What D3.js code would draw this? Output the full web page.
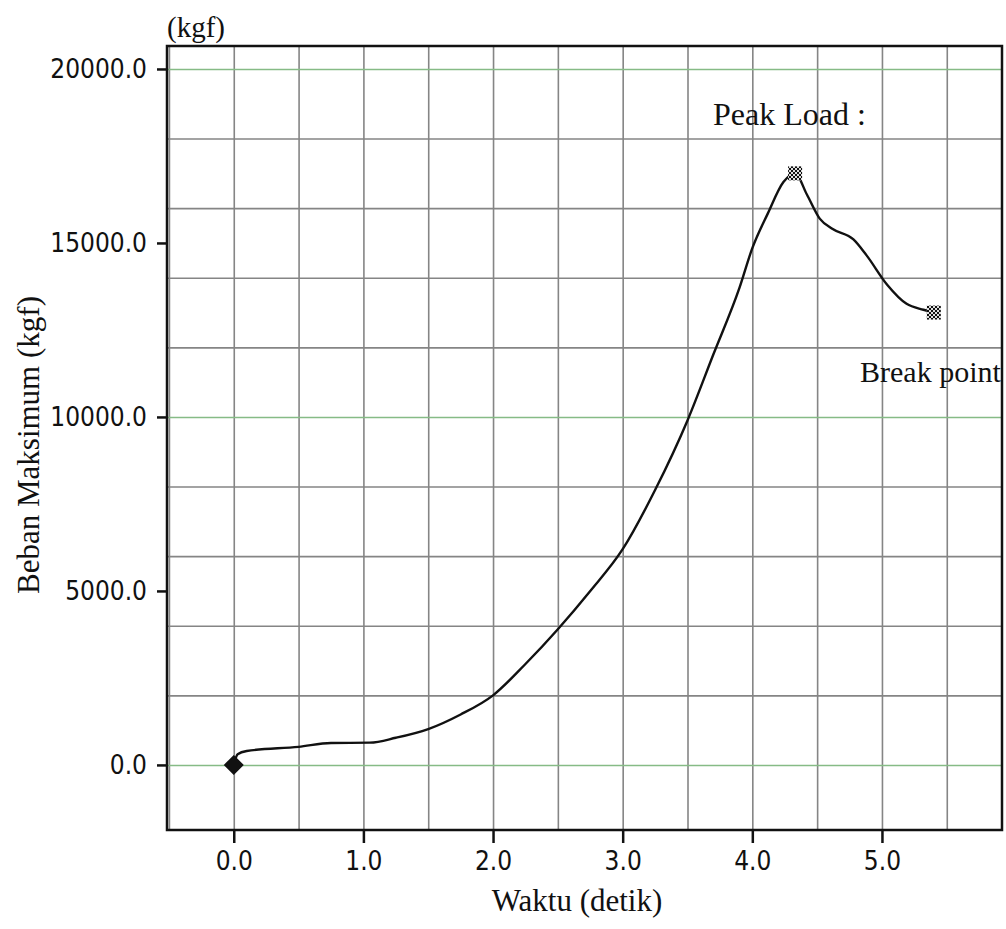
<!DOCTYPE html>
<html>
<head>
<meta charset="utf-8">
<script src="https://cdn.jsdelivr.net/npm/d3@7"></script>
<style>
  body { margin: 0; background: #fff; }
  .tick text { font-family: "DejaVu Sans Condensed", "DejaVu Sans", sans-serif; font-size: 26px; fill: #111; }
  .serif { font-family: "Liberation Serif", "Times New Roman", serif; fill: #111; }
</style>
</head>
<body>
<svg id="chart" width="1006" height="929"></svg>
<script>
// curve: time (s) and load (kgf)
const timeSec = [0, 0.03, 0.1, 0.5, 0.75, 1.05, 1.25, 1.5, 1.75, 2.0, 2.25, 2.5, 2.75, 3.0, 3.25,
  3.5, 3.7, 3.9, 4.0, 4.12, 4.24, 4.33, 4.42, 4.52, 4.62, 4.78, 4.88, 5.04, 5.19, 5.32, 5.4];
const loadKgf = [0, 310, 400, 520, 630, 640, 780, 1030, 1450, 2000, 2900, 3900, 5000, 6200, 7900,
  9900, 11800, 13700, 14850, 15850, 16750, 17000, 16400, 15700, 15400, 15100, 14650, 13800, 13250, 13080, 13000];

const xTicks = [0, 1, 2, 3, 4, 5];
const yTicks = [0, 5000, 10000, 15000, 20000];
const gridX = [-0.5, 0, 0.5, 1, 1.5, 2, 2.5, 3, 3.5, 4, 4.5, 5, 5.5];
const gridY = [0, 2000, 4000, 6000, 8000, 10000, 12000, 14000, 16000, 18000, 20000];
const greenY = [0, 10000, 20000];

const peakPoint = [4.33, 17000];
const breakPoint = [5.4, 13000];
const startPoint = [0, 0];

const margin = { top: 46, right: 4, bottom: 99, left: 167 };
const W = 1006, H = 929;
const width = W - margin.left - margin.right;
const height = H - margin.top - margin.bottom;

const svg = d3.select('#chart');

// checkered marker fill
const defs = svg.append('defs');
const pat = defs.append('pattern')
  .attr('id', 'checker')
  .attr('width', 4).attr('height', 4)
  .attr('patternUnits', 'userSpaceOnUse');
pat.append('rect').attr('width', 4).attr('height', 4).attr('fill', '#ddd');
pat.append('rect').attr('width', 2).attr('height', 2).attr('fill', '#111');
pat.append('rect').attr('x', 2).attr('y', 2).attr('width', 2).attr('height', 2).attr('fill', '#111');

const g = svg.append('g')
  .attr('transform', `translate(${margin.left},${margin.top})`);

const x = d3.scaleLinear().domain([-0.515, 5.926]).range([0, width]);
const y = d3.scaleLinear().domain([-1870, 20660]).range([height, 0]);

// vertical grid
g.append('g')
  .attr('transform', `translate(0,${height})`)
  .call(d3.axisBottom(x).tickValues(gridX).tickSize(-height).tickFormat(''))
  .call((s) => s.select('.domain').remove())
  .selectAll('line')
  .attr('stroke', '#858585')
  .attr('stroke-width', 1.6);

// horizontal grid
g.append('g')
  .call(d3.axisLeft(y).tickValues(gridY).tickSize(-width).tickFormat(''))
  .call((s) => s.select('.domain').remove())
  .selectAll('.tick line')
  .attr('stroke', (d) => (greenY.includes(d) ? '#86bb86' : '#858585'))
  .attr('stroke-width', 1.6);

// frame
g.append('rect')
  .attr('width', width)
  .attr('height', height)
  .attr('fill', 'none')
  .attr('stroke', '#111')
  .attr('stroke-width', 2.5);

// x axis
const xAxis = g.append('g')
  .attr('transform', `translate(0,${height})`)
  .call(d3.axisBottom(x).tickValues(xTicks).tickSize(13).tickPadding(9).tickFormat(d3.format('.1f')));
xAxis.select('.domain').remove();
xAxis.selectAll('line').attr('stroke', '#111').attr('stroke-width', 2.5);

// y axis
const yAxis = g.append('g')
  .call(d3.axisLeft(y).tickValues(yTicks).tickSize(10).tickPadding(10).tickFormat(d3.format('.1f')));
yAxis.select('.domain').remove();
yAxis.selectAll('line').attr('stroke', '#111').attr('stroke-width', 2.5);

// load curve
const line = d3.line()
  .x((d, i) => x(timeSec[i]))
  .y((d) => y(d))
  .curve(d3.curveMonotoneX);

g.append('path')
  .datum(loadKgf)
  .attr('d', line)
  .attr('fill', 'none')
  .attr('stroke', '#111')
  .attr('stroke-width', 2.4);

// markers
g.append('path')
  .attr('d', d3.symbol(d3.symbolSquare, 200)())
  .attr('transform', `translate(${x(startPoint[0])},${y(startPoint[1])}) rotate(45)`)
  .attr('fill', '#111');

g.selectAll('.mk')
  .data([peakPoint, breakPoint])
  .enter().append('rect')
  .attr('class', 'mk')
  .attr('x', (d) => x(d[0]) - 7)
  .attr('y', (d) => y(d[1]) - 7)
  .attr('width', 14)
  .attr('height', 14)
  .attr('fill', 'url(#checker)');

// labels
svg.append('text').attr('class', 'serif')
  .attr('x', 713).attr('y', 125)
  .attr('font-size', 32)
  .text('Peak Load :');

svg.append('text').attr('class', 'serif')
  .attr('x', 860).attr('y', 382)
  .attr('font-size', 30)
  .text('Break point');

svg.append('text').attr('class', 'serif')
  .attr('x', 167).attr('y', 37)
  .attr('font-size', 29)
  .text('(kgf)');

svg.append('text').attr('class', 'serif')
  .attr('x', 577).attr('y', 911)
  .attr('text-anchor', 'middle')
  .attr('font-size', 31)
  .text('Waktu (detik)');

svg.append('text').attr('class', 'serif')
  .attr('transform', `translate(39,445) rotate(-90)`)
  .attr('text-anchor', 'middle')
  .attr('font-size', 31)
  .text('Beban Maksimum (kgf)');
</script>
</body>
</html>
